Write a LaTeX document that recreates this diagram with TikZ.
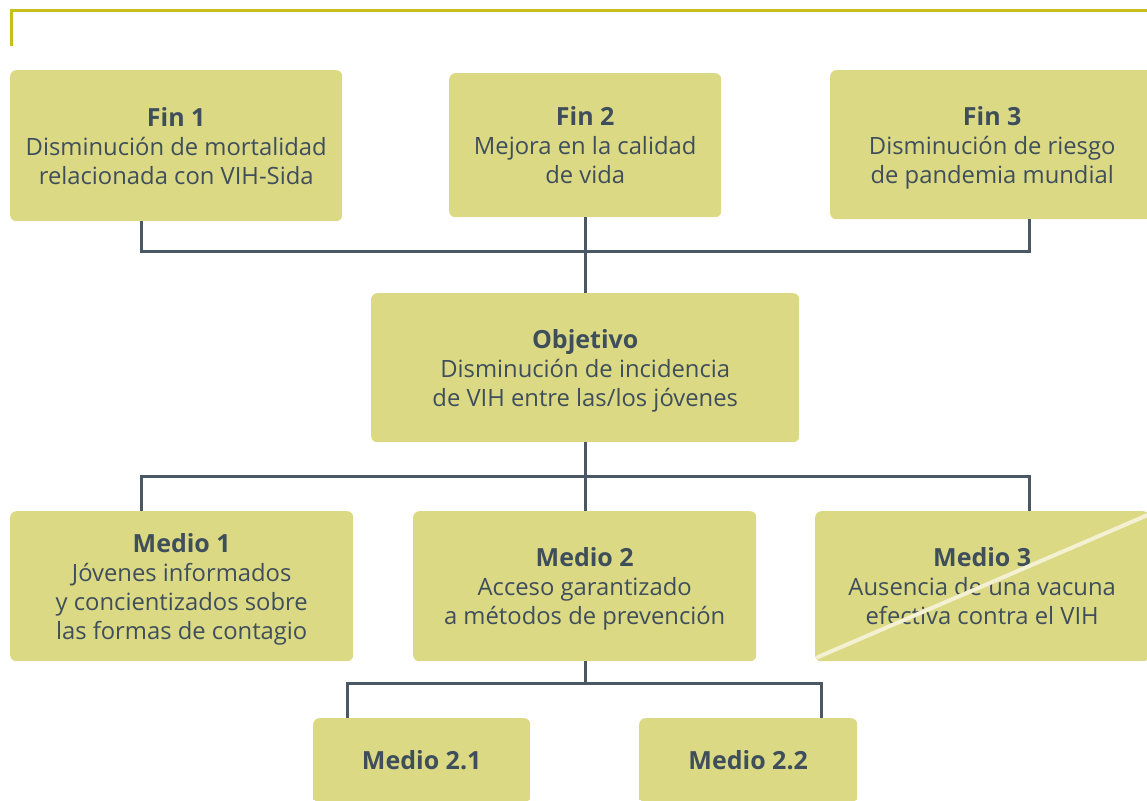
\documentclass[tikz,border=0pt]{standalone}
\usepackage{fontspec}
\setmainfont{Open Sans}
\definecolor{boxfill}{HTML}{DCD984}
\definecolor{txt}{HTML}{3F4E5B}
\definecolor{conncol}{HTML}{4A5864}
\definecolor{topline}{HTML}{C5C01A}
\definecolor{strike}{HTML}{F3F1D2}
\tikzset{
  box/.style={fill=boxfill, rounded corners=6pt, inner sep=0pt, anchor=north west,
    align=center, text=txt, font=\fontsize{23.8}{29}\selectfont},
  conn/.style={draw=conncol, line width=3pt}
}
\newcommand{\ttlf}[1]{{\fontsize{25}{29}\selectfont\bfseries #1}}
\newcommand{\nodepth}[1]{\raisebox{0pt}[\height][0pt]{#1}}
\begin{document}
\begin{tikzpicture}[x=1pt,y=-1pt]
\useasboundingbox (0,0) rectangle (1147,800);
\clip (0,0) rectangle (1147,800);
% top frame line
\draw[topline, line width=3pt] (1147,11) -- (11,11) -- (11,46);
% boxes
\node[box, minimum width=332pt, minimum height=151pt] (f1) at (10,70)
  {\ttlf{Fin 1}\\Disminución de mortalidad\\relacionada con VIH-Sida};
\node[box, minimum width=272pt, minimum height=144pt] (f2) at (449,73)
  {\ttlf{Fin 2}\\Mejora en la calidad\\de vida};
\node[box, minimum width=324pt, minimum height=149pt] (f3) at (830,70)
  {\ttlf{Fin 3}\\Disminución de riesgo\\\nodepth{de pandemia mundial}};
\node[box, minimum width=428pt, minimum height=149pt] (obj) at (371,293)
  {\ttlf{Objetivo}\\Disminución de incidencia\\\nodepth{de VIH entre las/los jóvenes}};
\node[box, minimum width=343pt, minimum height=150pt] (m1) at (10,511)
  {\ttlf{Medio 1}\\Jóvenes informados\\y concientizados sobre\\\nodepth{las formas de contagio}};
\node[box, minimum width=343pt, minimum height=150pt] (m2) at (413,511)
  {\ttlf{Medio 2}\\Acceso garantizado\\\nodepth{a métodos de prevención}};
\node[box, minimum width=334pt, minimum height=150pt] (m3) at (815,511)
  {\ttlf{Medio 3}\\Ausencia de una vacuna\\efectiva contra el VIH};
\node[box, minimum width=217pt, minimum height=84pt] (m21) at (313,718)
  {\ttlf{Medio 2.1}};
\node[box, minimum width=218pt, minimum height=84pt] (m22) at (639,718)
  {\ttlf{Medio 2.2}};
\fill[boxfill] (313,790) rectangle (530,800);
\fill[boxfill] (639,790) rectangle (857,800);
% strike line over Medio 3
\draw[strike, line width=4pt, line cap=round] (818,657) -- (1150,514);
% connectors
\coordinate (ja) at (141,251);
\coordinate (jb) at (1029,251);
\draw[conn] (f1.south -| ja) -- (ja) -- (jb) -- (f3.south -| jb);
\draw[conn] (f2.south) -- (obj.north);
\coordinate (jc) at (141,476);
\coordinate (jd) at (1029,476);
\draw[conn] (obj.south) -- (obj.south |- jc);
\draw[conn] (m1.north -| jc) -- (jc) -- (jd) -- (m3.north -| jd);
\draw[conn] (obj.south |- jc) -- (m2.north -| obj.south);
\coordinate (je) at (347,683);
\coordinate (jf) at (821,683);
\draw[conn] (m2.south -| obj.south) -- (obj.south |- je);
\draw[conn] (m21.north -| je) -- (je) -- (jf) -- (m22.north -| jf);
\end{tikzpicture}
\end{document}
